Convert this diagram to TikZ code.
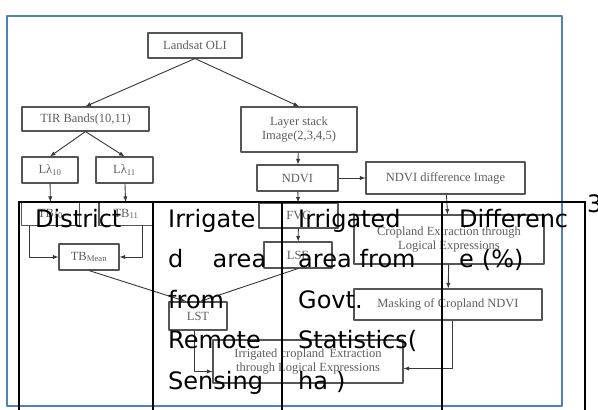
\documentclass[tikz,border=0pt]{standalone}
\usepackage{fontspec}
\usepackage{tikz}
\usetikzlibrary{positioning}
\usetikzlibrary{calc}
\usetikzlibrary{arrows}
\newfontfamily\fcserif{Liberation Serif}
\newfontfamily\cellsans{DejaVu Sans}
\definecolor{framecol}{RGB}{79,129,189}
\definecolor{boxgray}{RGB}{85,85,85}
\definecolor{textgray}{RGB}{95,95,95}
\definecolor{linegray}{RGB}{55,55,55}

\begin{document}
\begin{tikzpicture}[x=1pt, y=-1pt, line join=round,
	fbox/.style={draw=boxgray, line width=1.1pt, text=textgray, inner sep=1pt, align=center, font=\fcserif\fontsize{12.5}{14}\selectfont},
	flow/.style={->, >=latex, draw=linegray, line width=0.9pt},
	cell/.style={anchor=base west, inner sep=0pt, text width=#1, align=left, font=\cellsans\fontsize{24}{40.5}\selectfont},
	grid/.style={line width=2.2pt, line cap=rect}]
	\clip (0,0) rectangle (598,410);
	\fill[white] (0,0) rectangle (598,410);
	\draw[framecol, line width=2.6pt] (7,16) rectangle (562,406);
	% flowchart
	\node[fbox, minimum width=94pt, minimum height=25pt] (land) at (195,45.5) {Landsat OLI};
	\node[fbox, minimum width=127pt, minimum height=24pt] (tir) at (85.5,119) {TIR Bands(10,11)};
	\node[fbox, minimum width=116pt, minimum height=45pt] (stack) at (299,129.5) {Layer stack\\Image(2,3,4,5)};
	\node[fbox, minimum width=56pt, minimum height=26pt] (l10) at (50,170) {Lλ\textsubscript{10}};
	\node[fbox, minimum width=57pt, minimum height=26pt] (l11) at (124.5,170) {Lλ\textsubscript{11}};
	\node[fbox, minimum width=81pt, minimum height=26pt] (ndvi) at (297.5,178) {NDVI};
	\node[fbox, minimum width=159pt, minimum height=32pt] (ndvid) at (445.5,178) {NDVI difference Image};
	\node[fbox, minimum width=58pt, minimum height=23pt] (tb10) at (50.5,214) {TB\textsubscript{10}};
	\node[fbox, minimum width=54pt, minimum height=23pt] (tb11) at (126,214) {TB\textsubscript{11}};
	\node[fbox, minimum width=60pt, minimum height=26pt] (tbm) at (89,257) {TB\textsubscript{Mean}};
	\node[fbox, minimum width=79pt, minimum height=25pt] (fvc) at (298.5,215.5) {FVC};
	\node[fbox, minimum width=68pt, minimum height=26pt] (lse) at (298,255) {LSE};
	\node[fbox, minimum width=190pt, minimum height=49pt] (crop) at (449,239.5) {Cropland Extraction through\\Logical Expressions};
	\node[fbox, minimum width=188pt, minimum height=31pt] (mask) at (448,304.5) {Masking of Cropland NDVI};
	\node[fbox, minimum width=58pt, minimum height=28pt] (lst) at (198,316) {LST};
	\node[fbox, minimum width=190pt, minimum height=43pt] (irr) at (308,361.5) {Irrigated cropland\, Extraction\\through Logical Expressions};

	\draw[flow] (land.south) -- (tir.north);
	\draw[flow] (land.south) -- (stack.north);
	\draw[flow] (tir.south) -- (l10.north);
	\draw[flow] (tir.south) -- (l11.north);
	\draw[flow] (l10) -- (tb10);
	\draw[flow] (l11) -- (tb11);
	\draw[flow] ([xshift=-21pt]tb10.south) |- (tbm.west);
	\draw[flow] ([xshift=16pt]tb11.south) |- (tbm.east);
	\draw[flow] (tbm.south) -- ([xshift=-12pt]lst.north);
	\draw[flow] (lse.south) -- ([xshift=2pt]lst.north);
	\draw[flow] (stack) -- (ndvi);
	\draw[flow] (ndvi) -- (fvc);
	\draw[flow] (fvc) -- (lse);
	\draw[flow] (ndvi) -- (ndvid);
	\draw[flow] (ndvid) -- (crop);
	\draw[flow] (crop) -- (mask);
	\draw[flow] ([xshift=-4pt]lst.south) |- ([yshift=-10pt]irr.west);
	\draw[flow] ([xshift=4pt]mask.south) |- ([yshift=-7pt]irr.east);

	% table laid over it
	\draw[grid] (19,202) -- (585,202);
	\foreach \x in {19,153,282,442,585}
		\draw[grid] (\x,202) -- (\x,412);
	\node[cell=110pt] (district) at (35,227) {District};
	\node[cell=98pt] (rsarea) at (168,227) {Irrigate\\d\hfill area\\from\\Remote\\Sensing};
	\node[cell=135pt] (govarea) at (298,227) {Irrigated\\area from\\Govt.\\Statistics(\\ha )};
	\node[cell=120pt] (diff) at (459,227) {Differenc\\e (\%)};
	\node[cell=30pt] (three) at (587,212) {3};
\end{tikzpicture}
\end{document}
